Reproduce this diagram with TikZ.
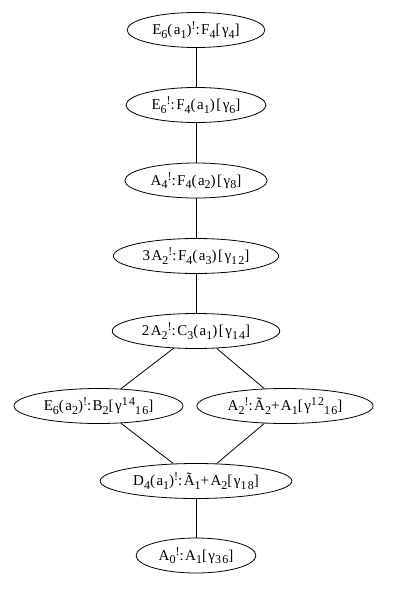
\documentclass[tikz,border=0pt]{standalone}
\usepackage{fontspec}
\setmainfont{Liberation Serif}[LetterSpace=10]
\usepackage{tikz}
\usetikzlibrary{shapes.geometric}
\newcommand{\lo}[1]{\raisebox{-3.3pt}{\fontsize{12}{12}\selectfont #1}}
\newcommand{\hi}[1]{\raisebox{5.3pt}{\fontsize{12}{12}\selectfont #1}}
\newcommand{\bang}{\hi{!}:}

\begin{document}
\begin{tikzpicture}[x=1pt,y=-1pt,line width=0.8pt]
\tikzstyle{every node}=[draw,ellipse,minimum height=35pt,inner xsep=5pt,inner ysep=0pt,font=\fontsize{15}{17}\selectfont]
\useasboundingbox (0,0) rectangle (396,589);
\node (f4) at (196,30) {E\lo{6}(a\lo{1})\bang F\lo{4}[γ\lo{4}]};
\node (f4a1) at (196,105) {E\lo{6}\bang F\lo{4}(a\lo{1})[γ\lo{6}]};
\node (f4a2) at (196,180.5) {A\lo{4}\bang F\lo{4}(a\lo{2})[γ\lo{8}]};
\node (f4a3) at (196,256) {3A\lo{2}\bang F\lo{4}(a\lo{3})[γ\lo{12}]};
\node (c3a1) at (196,331) {2A\lo{2}\bang C\lo{3}(a\lo{1})[γ\lo{14}]};
\node (b2) at (98.5,406) {E\lo{6}(a\lo{2})\bang B\lo{2}[γ\hi{14}\lo{16}]};
\node (a2a1) at (285,406) {A\lo{2}\bang Ã\lo{2}+A\lo{1}[γ\hi{12}\lo{16}]};
\node (a1a2) at (196,481) {D\lo{4}(a\lo{1})\bang Ã\lo{1}+A\lo{2}[γ\lo{18}]};
\node (a1) at (196,555.5) {A\lo{0}\bang A\lo{1}[γ\lo{36}]};
\draw (f4) -- (f4a1);
\draw (f4a1) -- (f4a2);
\draw (f4a2) -- (f4a3);
\draw (f4a3) -- (c3a1);
\draw (c3a1) -- (b2);
\draw (c3a1) -- (a2a1);
\draw (b2) -- (a1a2);
\draw (a2a1) -- (a1a2);
\draw (a1a2) -- (a1);
\end{tikzpicture}
\end{document}
